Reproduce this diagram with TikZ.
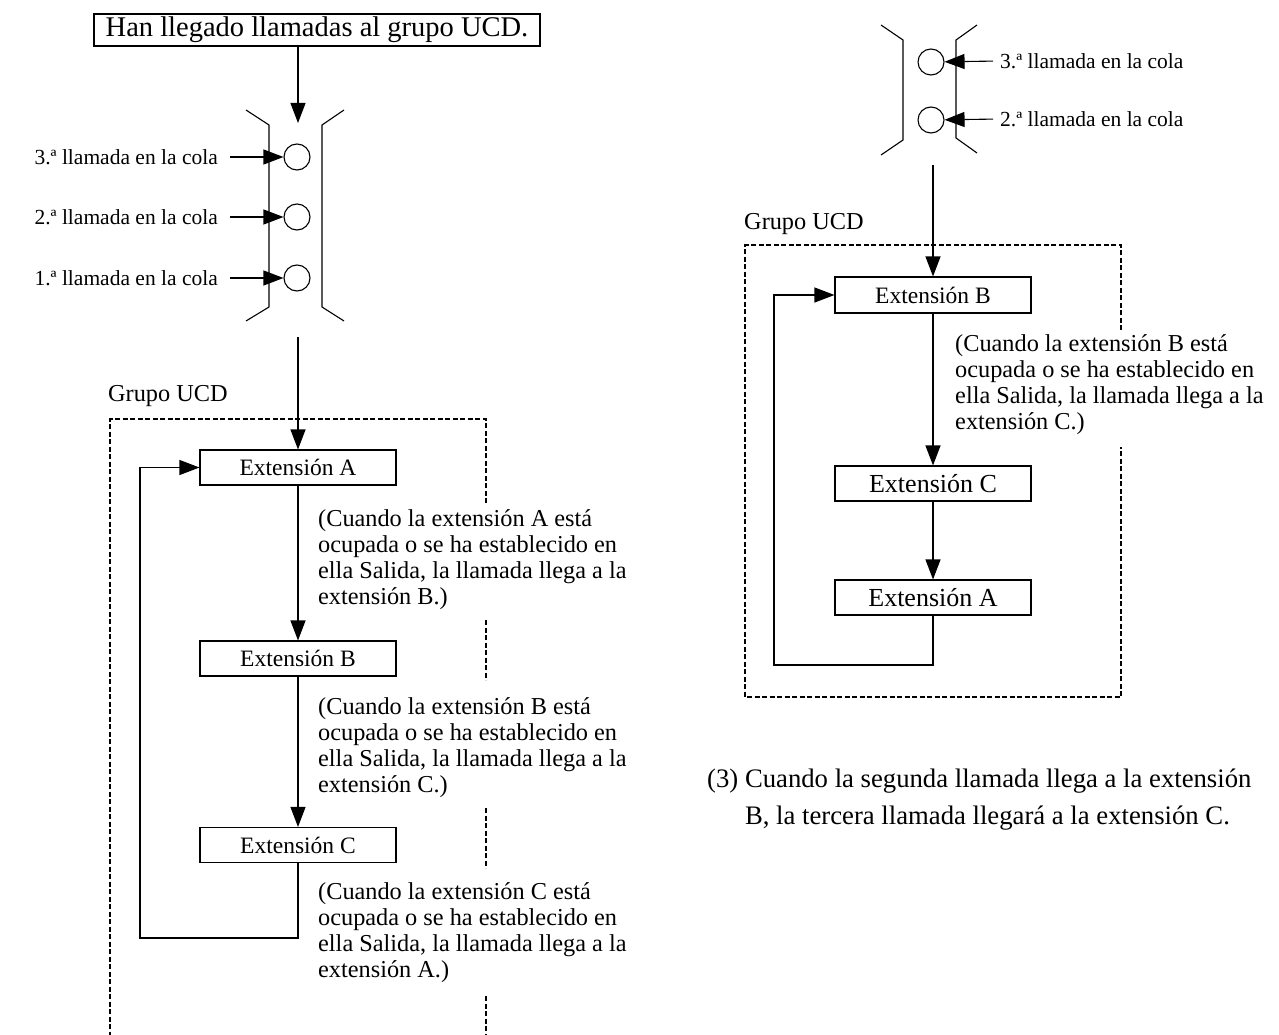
\documentclass[tikz,border=0pt]{standalone}
\usepackage{fontspec}
\setmainfont{Liberation Serif}
\usetikzlibrary{arrows.meta}
\begin{document}
\begin{tikzpicture}[x=1pt,y=-1pt,
  ln/.style={line width=1.1pt},
  arr/.style={line width=1.1pt,-{Triangle[length=20pt,width=15pt]}},
  dbox/.style={line width=1.5pt,dash pattern=on 5pt off 2.5pt},
  extbox/.style={draw,line width=1.1pt,minimum width=196pt,minimum height=35pt,inner sep=0pt,font=\fontsize{23.5}{26}\selectfont},
  extbig/.style={extbox,font=\fontsize{26}{28}\selectfont},
  body/.style={align=left,anchor=north west,inner sep=0pt,font=\fontsize{24.3}{26}\selectfont},
  qlab/.style={inner sep=0pt,font=\fontsize{21.5}{24}\selectfont},
  qcirc/.style={draw,circle,line width=1.1pt,minimum size=26pt,inner sep=0pt},
  grp/.style={anchor=west,inner sep=0pt,font=\fontsize{24.3}{26}\selectfont}]
\useasboundingbox (0,0) rectangle (1279,1035);

% ---------------- left part ----------------
\node[draw,line width=1.1pt,minimum width=446pt,minimum height=32pt,inner sep=0pt,
      font=\fontsize{28.5}{30}\selectfont] (top) at (317,30) {Han llegado llamadas al grupo UCD.};
\coordinate (qin) at (298,123);
\draw[arr] (top.south -| qin) -- (qin);

% queue
\draw[ln] (246,110) -- (269,125) -- (269,307) -- (246,321);
\draw[ln] (344,110) -- (322,125) -- (322,307) -- (344,321);
\node[qcirc] (q3) at (297,157) {};
\node[qcirc] (q2) at (297,217) {};
\node[qcirc] (q1) at (297,278) {};
\node[qlab,anchor=east] (l3) at (218,157) {3.ª llamada en la cola};
\node[qlab,anchor=east] (l2) at (218,217) {2.ª llamada en la cola};
\node[qlab,anchor=east] (l1) at (218,278) {1.ª llamada en la cola};
\draw[arr,shorten <=12pt] (l3.east) -- (q3);
\draw[arr,shorten <=12pt] (l2.east) -- (q2);
\draw[arr,shorten <=12pt] (l1.east) -- (q1);

% group
\node[grp] (g1) at (108,396) {Grupo UCD};
\draw[dbox] (486,503) -- (486,419) -- (110,419) -- (110,1035);
\draw[dbox] (486,620) -- (486,680);
\draw[dbox] (486,808) -- (486,868);
\draw[dbox] (486,996) -- (486,1035);

\node[extbox] (xa) at (298,467.5) {Extensión A};
\node[extbox] (xb) at (298,658.5) {Extensión B};
\node[extbox] (xc) at (298,845) {Extensión C};
\coordinate (qout) at (298,337);
\draw[arr] (qout) -- (xa.north);
\draw[arr] (xa.south) -- (xb.north);
\draw[arr] (xb.south) -- (xc.north);
\coordinate (loopl) at (140,938);
\draw[arr] (xc.south) |- (loopl) |- (xa.west);

\node[body] (ta) at (318,509.5) {(Cuando la extensión A está\\ocupada o se ha establecido en\\ella Salida, la llamada llega a la\\extensión B.)};
\node[body] (tb) at (318,697.5) {(Cuando la extensión B está\\ocupada o se ha establecido en\\ella Salida, la llamada llega a la\\extensión C.)};
\node[body] (tc) at (318,882.5) {(Cuando la extensión C está\\ocupada o se ha establecido en\\ella Salida, la llamada llega a la\\extensión A.)};

% ---------------- right part ----------------
\draw[ln] (881,25) -- (903,40) -- (903,140) -- (881,155);
\draw[ln] (977,25) -- (956,40) -- (956,138) -- (977,153);
\node[qcirc] (r3) at (931,62) {};
\node[qcirc] (r2) at (931,120) {};
\node[qlab,anchor=west] (rl3) at (1000,61) {3.ª llamada en la cola};
\node[qlab,anchor=west] (rl2) at (1000,119) {2.ª llamada en la cola};
\draw[arr,shorten <=7pt] (rl3.west) -- (r3);
\draw[arr,shorten <=7pt] (rl2.west) -- (r2);

\node[grp] (g2) at (744,224) {Grupo UCD};
\draw[dbox] (1121,330) -- (1121,245) -- (745,245) -- (745,697) -- (1121,697) -- (1121,447);

\node[extbox,minimum height=36pt] (yb) at (933,295) {Extensión B};
\node[extbig] (yc) at (933,483.5) {Extensión C};
\node[extbig] (ya) at (933,597.5) {Extensión A};
\coordinate (rqout) at (933,165);
\draw[arr] (rqout) -- (yb.north);
\draw[arr] (yb.south) -- (yc.north);
\draw[arr] (yc.south) -- (ya.north);
\coordinate (loopr) at (774,665);
\draw[arr] (ya.south) |- (loopr) |- (yb.west);

\node[body] (tr) at (955,334) {(Cuando la extensión B está\\ocupada o se ha establecido en\\ella Salida, la llamada llega a la\\extensión C.)};

\node[align=left,anchor=north west,inner sep=0pt,font=\fontsize{26.7}{37}\selectfont] (cap) at (707,769)
  {(3) Cuando la segunda llamada llega a la extensión\\\phantom{(3) }B, la tercera llamada llegará a la extensión C.};
\end{tikzpicture}
\end{document}
